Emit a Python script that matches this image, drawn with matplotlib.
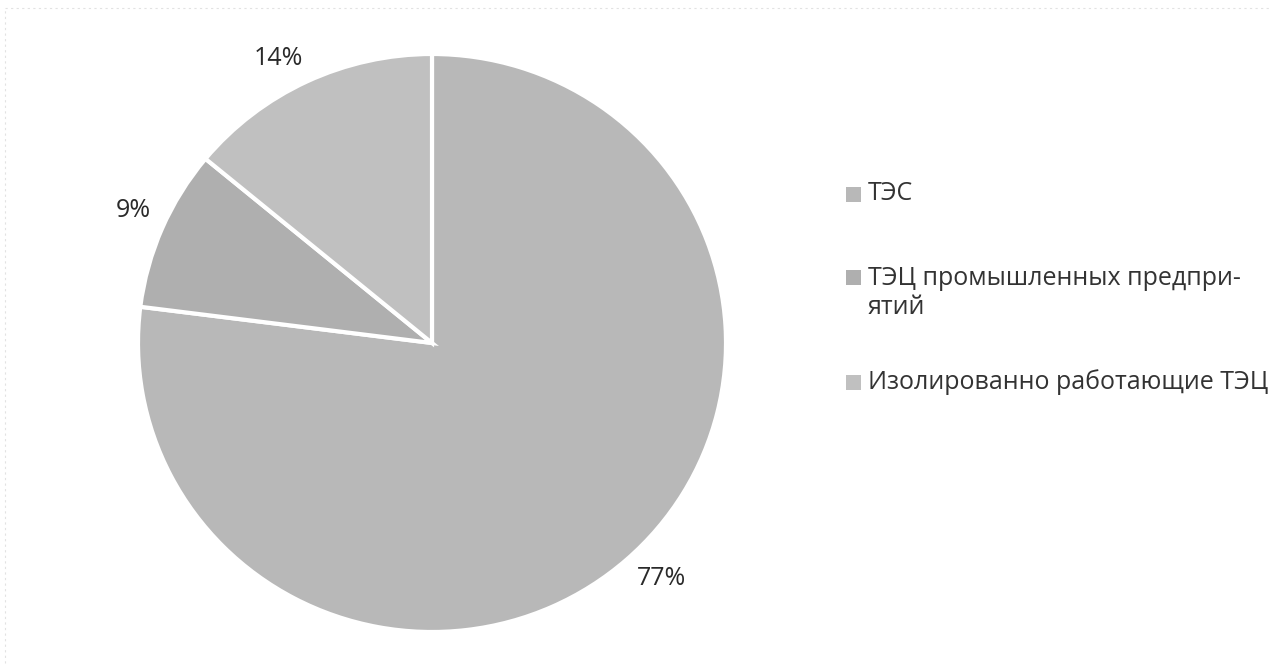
import matplotlib
matplotlib.use("Agg")
import matplotlib.pyplot as plt
from matplotlib.patches import Rectangle
from matplotlib.lines import Line2D

plt.rcParams['font.family'] = ['Open Sans', 'DejaVu Sans']

categories = ["ТЭС", "ТЭЦ промышленных предпри-\nятий", "Изолированно работающие ТЭЦ"]
shares = [77, 9, 14]
pct_labels = ["77%", "9%", "14%"]
slice_colors = ["#b8b8b8", "#afafaf", "#c0c0c0"]

W, H = 1274, 667
fig = plt.figure(figsize=(W / 100, H / 100), dpi=100)
fig.patch.set_facecolor("white")

# faint chart frame along the left and top edges
frame_style = dict(color="#e2e2e2", linewidth=0.8, linestyle=(0, (2, 3)),
                   transform=fig.transFigure)
fig.lines.append(Line2D([5 / W, 5 / W], [4 / H, 1 - 8 / H], **frame_style))
fig.lines.append(Line2D([5 / W, 1 - 5 / W], [1 - 8 / H, 1 - 8 / H], **frame_style))

cx, cy, rx, ry = 432, 343, 294, 289
ax = fig.add_axes([(cx - rx) / W, (H - cy - ry) / H, 2 * rx / W, 2 * ry / H])

wedges, _ = ax.pie(shares, colors=slice_colors, startangle=90, counterclock=False,
                   radius=1.0, wedgeprops=dict(edgecolor="white", linewidth=3))
ax.set_aspect("auto")
ax.set_xlim(-1, 1)
ax.set_ylim(-1, 1)
ax.axis("off")

# percentage labels around the pie (axes data units, radius = 1)
label_pos = [(0.782, -0.815), (-1.017, 0.46), (-0.524, 0.983)]
for txt, (lx, ly) in zip(pct_labels, label_pos):
    ax.text(lx, ly, txt, ha="center", va="center", fontsize=18, color="#2a2a2a")

# legend: square swatch + text
rows_y = [194, 277, 382]
for lab, col, y in zip(categories, slice_colors, rows_y):
    fig.patches.append(Rectangle((846 / W, 1 - (y + 8) / H), 15 / W, 15 / H,
                                 transform=fig.transFigure, facecolor=col,
                                 edgecolor="none"))
    if "\n" in lab:
        fig.text(868 / W, 1 - (y - 11) / H, lab, ha="left", va="top",
                 fontsize=18, color="#333333", linespacing=1.2)
    else:
        fig.text(868 / W, 1 - y / H, lab, ha="left", va="center",
                 fontsize=18, color="#333333")

fig.savefig("out.png", dpi=100, facecolor="white")
